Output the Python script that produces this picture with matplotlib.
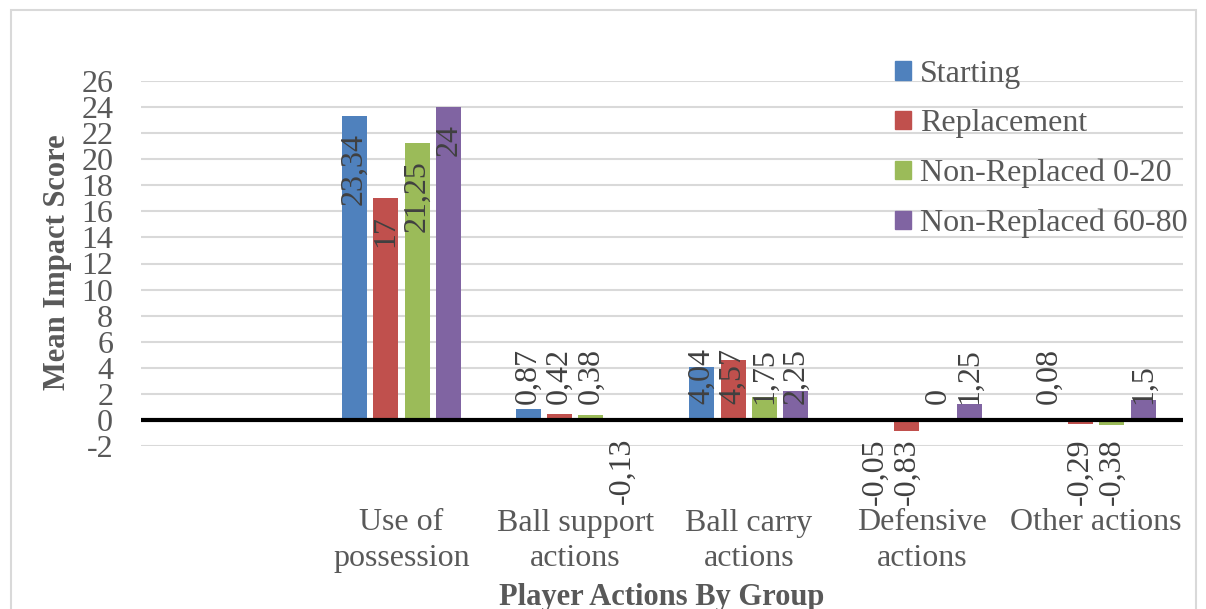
import matplotlib
matplotlib.use("Agg")
import matplotlib.pyplot as plt
import numpy as np
from matplotlib.patches import Patch, Rectangle

categories = ["", "Use of\npossession", "Ball support\nactions", "Ball carry\nactions",
              "Defensive\nactions", "Other actions"]
series_names = ["Starting", "Replacement", "Non-Replaced 0-20", "Non-Replaced 60-80"]
starting = [np.nan, 23.34, 0.87, 4.04, -0.05, 0.08]
replacement = [np.nan, 17, 0.42, 4.57, -0.83, -0.29]
nonrep_0_20 = [np.nan, 21.25, 0.38, 1.75, 0, -0.38]
nonrep_60_80 = [np.nan, 24, -0.13, 2.25, 1.25, 1.5]
label_texts = [
    [None, "23,34", "0,87", "4,04", "-0,05", "0,08"],
    [None, "17", "0,42", "4,57", "-0,83", "-0,29"],
    [None, "21,25", "0,38", "1,75", "0", "-0,38"],
    [None, "24", "-0,13", "2,25", "1,25", "1,5"],
]
yticks = list(range(-2, 27, 2))

colors = ["#4F81BD", "#C0504D", "#9BBB59", "#8064A2"]
txt = "#595959"
plt.rcParams["font.family"] = ["Liberation Serif", "DejaVu Serif"]

W, H = 1206, 609
fig = plt.figure(figsize=(W / 100, H / 100), dpi=100)
ax = fig.add_axes([141 / W, 1 - 446 / H, (1183 - 141) / W, (446 - 81) / H])

x = np.arange(len(categories))
step = 0.181
bw = 0.144
all_series = [starting, replacement, nonrep_0_20, nonrep_60_80]
for i, (vals, c, name) in enumerate(zip(all_series, colors, series_names)):
    xs = x + (i - 1.5) * step
    ax.bar(xs, vals, width=bw, color=c, label=name, zorder=3)
    for xi, v, t in zip(xs, vals, label_texts[i]):
        if t is None:
            continue
        if v < 0:
            ax.text(xi, -1.38, t, rotation=90, ha="center", va="top",
                    fontsize=23, color="#404040", zorder=5)
        elif v > 10:
            ax.text(xi, v - 1.3, t, rotation=90, ha="center", va="top",
                    fontsize=23, color="#404040", zorder=5)
        else:
            ax.text(xi, 1.23, t, rotation=90, ha="center", va="bottom",
                    fontsize=23, color="#404040", zorder=5)

ax.set_xlim(-0.5, len(categories) - 0.5)
ax.set_ylim(-2, 26)
ax.set_yticks(yticks)
ax.set_yticklabels([str(t) for t in yticks])
ax.set_xticks(x)
ax.set_xticklabels(categories, linespacing=1.3)
ax.tick_params(axis="y", length=0, pad=20, labelsize=23, labelcolor=txt)
ax.tick_params(axis="x", length=0, pad=45, labelsize=23, labelcolor=txt)
for s in ax.spines.values():
    s.set_visible(False)
ax.grid(axis="y", color="#d9d9d9", lw=1.5, zorder=0)
ax.set_axisbelow(True)
ax.axhline(0, color="black", lw=3, zorder=4)

fig.text(57 / W, 1 - 262 / H, "Mean Impact Score", rotation=90, ha="center", va="center",
         fontsize=22, fontweight="bold", color=txt)
fig.text(662 / W, 1 - 597 / H, "Player Actions By Group", ha="center", va="center",
         fontsize=22, fontweight="bold", color=txt)

handles = [Patch(color=c) for c in colors]
fig.legend(handles, series_names, loc="upper left", bbox_to_anchor=(882 / W, 1 - 47 / H),
           frameon=False, fontsize=23, handlelength=0.5, handleheight=0.5,
           handletextpad=0.3, labelspacing=0.64, labelcolor=txt, borderaxespad=0)

fig.add_artist(Rectangle((11 / W, -0.05), (1196 - 11) / W, 1 - 10 / H + 0.05,
                         transform=fig.transFigure, fill=False, ec="#d9d9d9", lw=1.5))

fig.savefig("out.png", dpi=100)
